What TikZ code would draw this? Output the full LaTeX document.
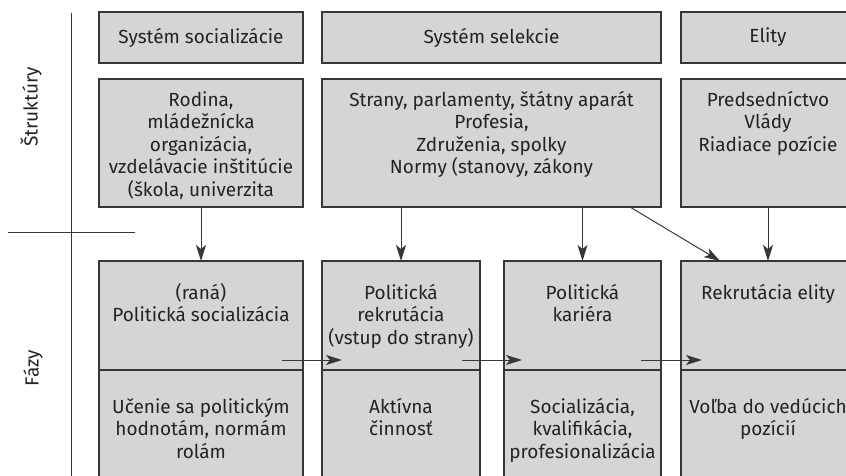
\documentclass[tikz,border=0pt]{standalone}
\usepackage{fontspec}
\setmainfont{Fira Sans}
\usetikzlibrary{arrows.meta, positioning, calc}
\definecolor{boxgray}{RGB}{213,213,215}
\definecolor{linegray}{RGB}{55,55,55}
\definecolor{textgray}{RGB}{35,35,35}
\newcommand{\firstline}{\rule{0pt}{16pt}}

\begin{document}
\begin{tikzpicture}[x=1pt, y=-1pt,
    % Styles
    cell/.style={draw=linegray, line width=1.3pt, fill=boxgray, inner sep=0pt, outer sep=0pt, anchor=north west},
    hdrcell/.style={cell, minimum height=51pt, font=\fontsize{19}{22.5}\selectfont, text=textgray},
    celltext/.style={font=\fontsize{19}{22.5}\selectfont, text=textgray, align=center, anchor=north, inner sep=0pt},
    axislabel/.style={font=\fontsize{19}{22.5}\selectfont, text=textgray, rotate=90},
    axisline/.style={draw=linegray, line width=1pt},
    flow/.style={-{Stealth[length=16pt, width=10pt, inset=4pt]}, line width=1pt, draw=linegray},
]
    \useasboundingbox (0,0) rectangle (846,476);
    \clip (0,0) rectangle (846,476);

    % Axis lines and row titles
    \draw[axisline] (71,13) -- (71,476);
    \draw[axisline] (8,232) -- (135,232);
    \node[axislabel] (strlabel) at (31,107) {Štruktúry};
    \node[axislabel] (fazlabel) at (33,368) {Fázy};

    % Header row
    \node[hdrcell, minimum width=204pt] (socsys) at (99,12) {Systém socializácie};
    \node[hdrcell, minimum width=339pt] (selsys) at (322,12) {Systém selekcie};
    \node[hdrcell, minimum width=174pt] (elsys) at (681,12) {Elity};

    % Structures
    \node[cell, minimum width=204pt, minimum height=128pt] (rodina) at (99,79) {};
    \node[cell, minimum width=339pt, minimum height=128pt] (strany) at (322,79) {};
    \node[cell, minimum width=174pt, minimum height=128pt] (predsed) at (681,79) {};
    \node[celltext] (rodinatxt) at ([yshift=-11pt]rodina.north) {\firstline Rodina,\\mládežnícka\\organizácia,\\vzdelávacie inštitúcie\\(škola, univerzita};
    \node[celltext] (stranytxt) at ([yshift=-11pt]strany.north) {\firstline Strany, parlamenty, štátny aparát\\Profesia,\\Združenia, spolky\\Normy (stanovy, zákony};
    \node[celltext] (predsedtxt) at ([yshift=-11pt]predsed.north) {\firstline Predsedníctvo\\Vlády\\Riadiace pozície};

    % Phases - upper part
    \node[cell, minimum width=204pt, minimum height=109pt] (phs1) at (99,261) {};
    \node[cell, minimum width=158pt, minimum height=109pt] (phs2) at (322,261) {};
    \node[cell, minimum width=157pt, minimum height=109pt] (phs3) at (504,261) {};
    \node[cell, minimum width=174pt, minimum height=109pt] (phs4) at (681,261) {};
    \node[celltext] (phs1txt) at ([yshift=-22pt]phs1.north) {\firstline(raná)\\Politická socializácia};
    \node[celltext] (phs2txt) at ([yshift=-22pt]phs2.north) {\firstline Politická\\rekrutácia\\(vstup do strany)};
    \node[celltext] (phs3txt) at ([yshift=-22pt]phs3.north) {\firstline Politická\\kariéra};
    \node[celltext] (phs4txt) at ([yshift=-22pt]phs4.north) {\firstline Rekrutácia elity};

    % Phases - lower part
    \node[cell, minimum width=204pt, minimum height=130pt] (act1) at (phs1.south west) {};
    \node[cell, minimum width=158pt, minimum height=130pt] (act2) at (phs2.south west) {};
    \node[cell, minimum width=157pt, minimum height=130pt] (act3) at (phs3.south west) {};
    \node[cell, minimum width=174pt, minimum height=130pt] (act4) at (phs4.south west) {};
    \node[celltext] (act1txt) at ([yshift=-27pt]act1.north) {\firstline Učenie sa politickým\\hodnotám, normám\\rolám};
    \node[celltext] (act2txt) at ([yshift=-27pt]act2.north) {\firstline Aktívna\\činnosť};
    \node[celltext] (act3txt) at ([yshift=-27pt]act3.north) {\firstline Socializácia,\\kvalifikácia,\\profesionalizácia};
    \node[celltext] (act4txt) at ([yshift=-27pt]act4.north) {\firstline Voľba do vedúcich\\pozícií};

    % Arrows from structures to phases
    \draw[flow] (rodina.south) -- (phs1.north);
    \draw[flow] (strany.south -| phs2.north) -- (phs2.north);
    \draw[flow] (strany.south -| phs3.north) -- (phs3.north);
    \draw[flow] (predsed.south) -- (phs4.north);
    \draw[flow] ([xshift=-31pt]strany.south east) -- ([xshift=39pt]phs4.north west);

    % Arrows between phases
    \draw[flow] ([xshift=-21pt, yshift=10pt]act1.north east) -- ([xshift=20pt, yshift=10pt]act2.north west);
    \draw[flow] ([xshift=-18pt, yshift=10pt]act2.north east) -- ([xshift=18pt, yshift=10pt]act3.north west);
    \draw[flow] ([xshift=-20pt, yshift=10pt]act3.north east) -- ([xshift=21pt, yshift=10pt]act4.north west);

\end{tikzpicture}
\end{document}
